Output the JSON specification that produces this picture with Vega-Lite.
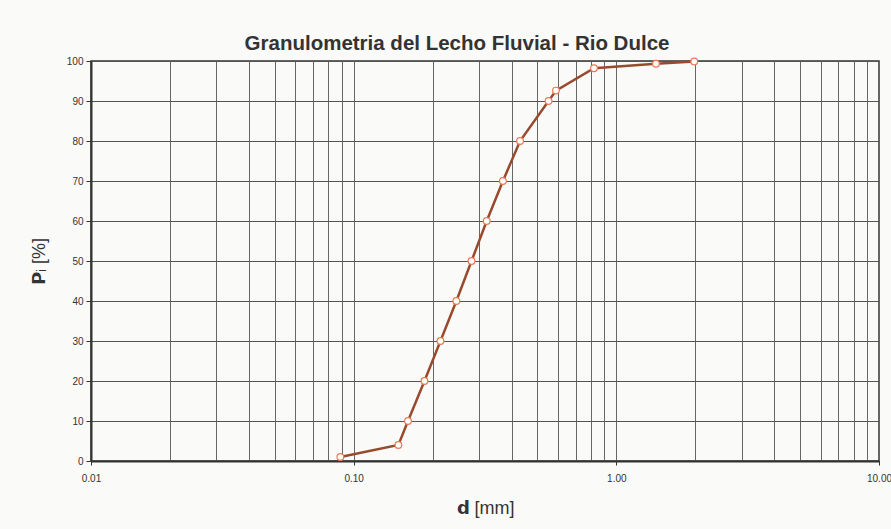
{
  "$schema": "https://vega.github.io/schema/vega-lite/v6.json",
  "width": 788,
  "height": 400,
  "autosize": {"type": "none"},
  "padding": {"left": 91, "top": 61, "right": 12, "bottom": 68},
  "background": "#fafaf8",
  "title": {
    "text": "Granulometria del Lecho Fluvial - Rio Dulce",
    "font": "Liberation Sans",
    "fontSize": 20.5,
    "fontWeight": "bold",
    "color": "#333333",
    "anchor": "middle",
    "dx": -28,
    "offset": -15,
    "baseline": "alphabetic"
  },
  "data": {
    "values": [
      {"d": 0.089, "P": 1},
      {"d": 0.148, "P": 4},
      {"d": 0.161, "P": 10},
      {"d": 0.186, "P": 20},
      {"d": 0.214, "P": 30},
      {"d": 0.246, "P": 40},
      {"d": 0.281, "P": 50},
      {"d": 0.321, "P": 60},
      {"d": 0.370, "P": 70},
      {"d": 0.430, "P": 80},
      {"d": 0.552, "P": 90},
      {"d": 0.589, "P": 92.6},
      {"d": 0.822, "P": 98.2},
      {"d": 1.415, "P": 99.3},
      {"d": 1.98, "P": 99.9}
    ]
  },
  "encoding": {
    "x": {
      "field": "d",
      "type": "quantitative",
      "scale": {"type": "log", "domain": [0.01, 10], "nice": false},
      "axis": {
        "values": [0.01, 0.02, 0.03, 0.04, 0.05, 0.06, 0.07, 0.08, 0.09, 0.1, 0.2, 0.3, 0.4, 0.5, 0.6, 0.7, 0.8, 0.9, 1, 2, 3, 4, 5, 6, 7, 8, 9, 10],
        "labelExpr": "abs(log(datum.value)/LN10 - round(log(datum.value)/LN10)) < 0.000001 ? format(datum.value, '.2f') : ''",
        "labelOverlap": false,
        "labelFlush": false,
        "labelFont": "Liberation Sans",
        "labelFontSize": 10,
        "labelColor": "#333333",
        "labelPadding": 8,
        "tickSize": 4,
        "tickColor": {"condition": {"test": "abs(log(datum.value)/LN10 - round(log(datum.value)/LN10)) < 0.000001", "value": "#333333"}, "value": "rgba(0,0,0,0)"},
        "domainColor": "#333333",
        "domainWidth": 2,
        "grid": true,
        "gridColor": "#666666",
        "gridWidth": 1,
        "gridOpacity": 1,
        "title": "𝗱 [mm]",
        "titleFont": "Liberation Sans",
        "titleFontSize": 18,
        "titleFontWeight": "normal",
        "titleColor": "#333333",
        "titlePadding": 16
      }
    },
    "y": {
      "field": "P",
      "type": "quantitative",
      "scale": {"domain": [0, 100], "nice": false},
      "axis": {
        "values": [0, 10, 20, 30, 40, 50, 60, 70, 80, 90, 100],
        "labelFont": "Liberation Sans",
        "labelFontSize": 10,
        "labelColor": "#333333",
        "labelPadding": 3,
        "tickSize": 5,
        "tickColor": "#333333",
        "domainColor": "#333333",
        "domainWidth": 2,
        "grid": true,
        "gridColor": "#555555",
        "gridWidth": 1,
        "gridOpacity": 1,
        "title": "𝗣ᵢ [%]",
        "titleFont": "Liberation Sans",
        "titleFontSize": 18,
        "titleFontWeight": "normal",
        "titleColor": "#333333",
        "titlePadding": 18
      }
    }
  },
  "layer": [
    {"mark": {"type": "line", "color": "#984a2f", "strokeWidth": 2.5}},
    {"mark": {"type": "point", "filled": true, "fill": "#ffffff", "stroke": "#f07850", "strokeWidth": 1.2, "size": 45, "opacity": 1}}
  ],
  "config": {"view": {"stroke": "#333333", "strokeWidth": 1.5}}
}
